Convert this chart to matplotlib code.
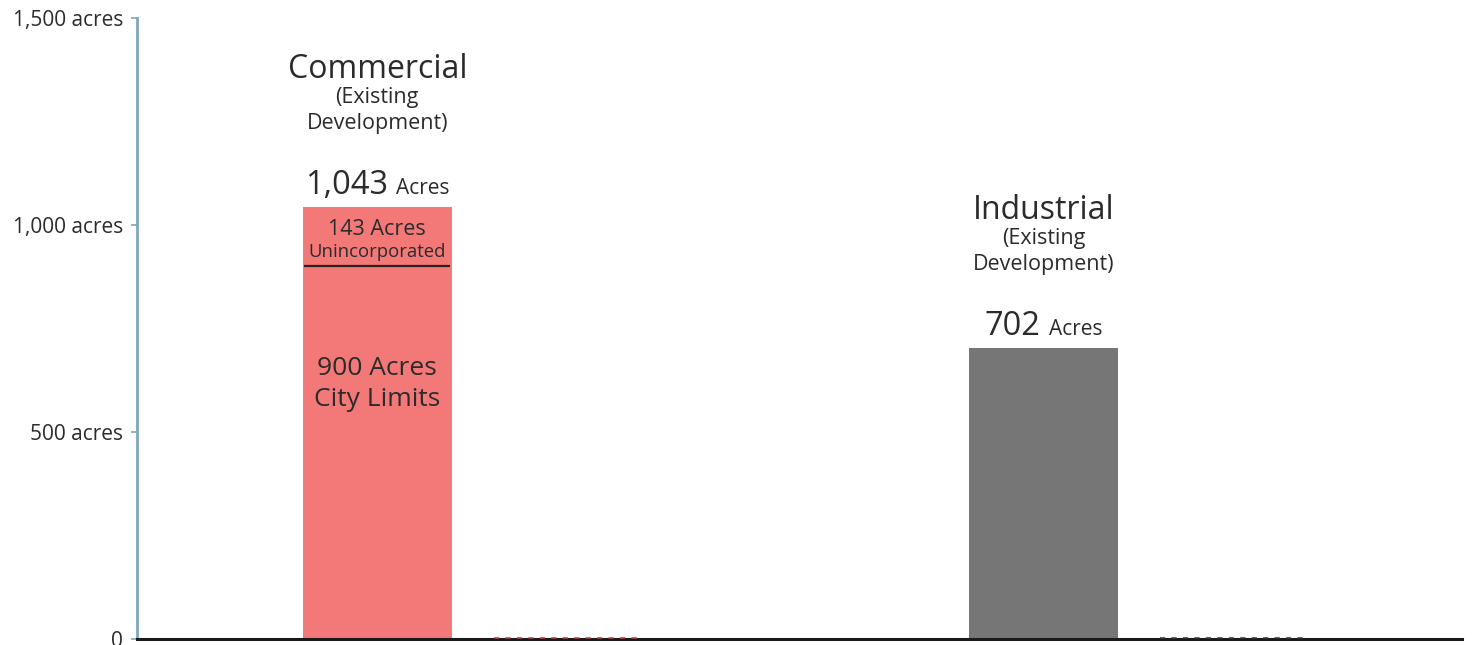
import numpy as np
import matplotlib
matplotlib.use('Agg')
import matplotlib.pyplot as plt
import matplotlib.transforms as mtransforms
from matplotlib.offsetbox import TextArea, HPacker, AnnotationBbox

plt.rcParams['font.family'] = ['Open Sans', 'DejaVu Sans']

# data
categories = ['Commercial', 'Industrial']
subtitle = '(Existing\nDevelopment)'
city_limits = [900, 702]          # commercial: city limits part, industrial: total
unincorporated = [143, 0]
totals = [1043, 702]
proposed = [0, 0]                 # empty companion series (dotted at baseline)
yticks = [0, 500, 1000, 1500]
ytick_labels = ['0', '500 acres', '1,000 acres', '1,500 acres']

bar_colors = ['#F37878', '#767676']
dot_colors = ['#B04545', '#3a3a3a']
text_color = '#2b2b2b'

fig = plt.figure(figsize=(14.81, 6.45), dpi=100)
ax = fig.add_axes([0.0925, 0.0093, 0.8945, 0.9627])

x = np.arange(len(categories))
offset = 0.1434
width = 0.2236

ax.bar(x - offset, city_limits, width, color=bar_colors, zorder=2)
ax.bar(x - offset, unincorporated, width, bottom=city_limits, color=bar_colors, zorder=2)

# empty series: dotted line sitting just on top of the baseline
lift = ax.transData + mtransforms.ScaledTranslation(0, 1.5 / 100, fig.dpi_scale_trans)
for i in range(len(categories)):
    ax.hlines(proposed[i], x[i] + offset - width / 2, x[i] + offset + width / 2,
              colors=dot_colors[i], linestyles=(0, (2.5, 3)), linewidth=1.5,
              alpha=0.8, transform=lift, zorder=4, clip_on=False)

ax.set_xlim(-0.504, 1.484)
ax.set_ylim(0, 1500)
ax.set_xticks([])
ax.set_yticks(yticks)
ax.set_yticklabels(ytick_labels, fontsize=15, color=text_color)
ax.tick_params(axis='y', length=4, width=1.2, color='#7FA7BD', pad=6)

for s in ['top', 'right']:
    ax.spines[s].set_visible(False)
ax.spines['left'].set_color('#7FA7BD')
ax.spines['left'].set_linewidth(2)
ax.spines['bottom'].set_color('#1a1a1a')
ax.spines['bottom'].set_linewidth(2.2)
ax.spines['bottom'].set_zorder(3)

# labels above the bars
for i, cat in enumerate(categories):
    bx = x[i] - offset
    top = totals[i]
    ax.annotate(cat, (bx, top), xytext=(0, 138), textcoords='offset pixels',
                ha='center', va='center', fontsize=23, color=text_color)
    ax.annotate(subtitle, (bx, top), xytext=(0, 97), textcoords='offset pixels',
                ha='center', va='center', fontsize=15.5, color=text_color,
                linespacing=1.3)
    num = TextArea(f'{top:,}', textprops=dict(fontsize=23.5, color=text_color))
    unit = TextArea('Acres', textprops=dict(fontsize=15, color=text_color))
    pack = HPacker(children=[num, unit], align='baseline', pad=0, sep=6)
    ab = AnnotationBbox(pack, (bx, top), xybox=(0, 5), xycoords='data',
                        boxcoords='offset pixels', box_alignment=(0.5, 0),
                        frameon=False)
    ax.add_artist(ab)

# inside the commercial bar
cx = x[0] - offset
ax.annotate('143 Acres', (cx, totals[0]), xytext=(0, -22), textcoords='offset pixels',
            ha='center', va='center', fontsize=15.5, color=text_color)
ax.annotate('Unincorporated', (cx, totals[0]), xytext=(0, -45), textcoords='offset pixels',
            ha='center', va='center', fontsize=13.3, color=text_color)
ax.hlines(city_limits[0], cx - width / 2 + 0.002, cx + width / 2 - 0.002,
          color='#2a2020', linewidth=1.6, zorder=3)
ax.annotate('900 Acres\nCity Limits', (cx, city_limits[0]), xytext=(0, -118),
            textcoords='offset pixels', ha='center', va='center', fontsize=19,
            color=text_color, linespacing=1.32)

fig.savefig('out.png', dpi=100, facecolor='white')
